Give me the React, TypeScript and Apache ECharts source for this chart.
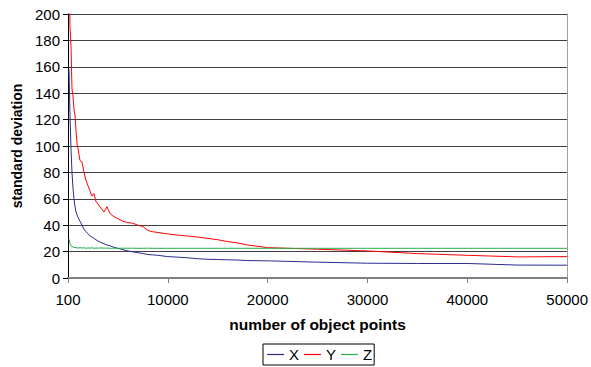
import React, { useEffect, useRef } from "react";
import * as echarts from "echarts";

const pointCounts = [100, 200, 300, 400, 500, 600, 700, 800, 900, 1000, 1200, 1400, 1600, 1800, 2000, 2200, 2400, 2600, 2800, 3000, 3300, 3600, 3900, 4200, 4500, 5000, 5500, 6000, 6500, 7000, 7500, 8000, 8500, 9000, 10000, 11000, 12000, 13000, 14000, 15000, 16000, 17000, 18000, 20000, 25000, 30000, 35000, 40000, 45000, 50000];

const sdX = [158, 124, 98, 80, 68, 60, 54, 50, 48, 46, 43, 40, 37, 35, 33.5, 32, 31, 30, 29, 28, 27, 26, 25, 24.5, 23.5, 22.5, 21.5, 20.5, 19.8, 19.2, 18.5, 17.8, 17.5, 17.2, 16.2, 15.8, 15.3, 14.6, 14.2, 14, 13.8, 13.6, 13.2, 13, 12, 11.2, 11, 11, 9.8, 9.7];

const sdY = [240, 190, 176, 143, 138, 128, 123, 112, 102, 98, 89, 88, 80, 74, 70, 66, 62, 64, 58, 56, 53, 50, 54, 49, 47, 45, 43, 42, 41.5, 40, 39, 36, 35, 34.5, 33.4, 32.5, 31.8, 31, 30, 29, 27.6, 26.5, 25, 23, 21.8, 20.5, 18.5, 17.2, 16, 16.2];

const sdZ = [29.5, 26, 24.5, 24, 23.5, 23, 23.2, 22.8, 23, 22.6, 23, 22.7, 22.9, 22.5, 22.8, 22.6, 22.9, 22.5, 22.7, 22.6, 22.8, 22.6, 22.7, 22.5, 22.6, 22.5, 22.6, 22.5, 22.6, 22.5, 22.5, 22.6, 22.5, 22.5, 22.5, 22.5, 22.5, 22.5, 22.5, 22.5, 22.5, 22.5, 22.5, 22.5, 22.5, 22.5, 22.5, 22.5, 22.5, 22.5];

const seriesNames = ["X", "Y", "Z"];
const seriesColors = ["#2b2b8f", "#ff0000", "#22b04a"];
const xTickLabels: Record<number, string> = { 0: "100", 10000: "10000", 20000: "20000", 30000: "30000", 40000: "40000", 50000: "50000" };

export default function App() {
  const ref = useRef<HTMLDivElement>(null);
  useEffect(() => {
    if (!ref.current) return;
    const chart = echarts.init(ref.current, undefined, { renderer: "svg" });
    const values = [sdX, sdY, sdZ];
    const font = "Liberation Sans";
    chart.setOption({
      animation: false,
      backgroundColor: "#ffffff",
      grid: { left: 68, right: 21, top: 14, bottom: 89, containLabel: false },
      xAxis: {
        type: "value",
        min: 0,
        max: 50000,
        interval: 10000,
        name: "number of object points",
        nameLocation: "middle",
        nameGap: 38,
        nameTextStyle: { fontFamily: font, fontWeight: "bold", fontSize: 15.5, color: "#000" },
        axisLine: { show: true, lineStyle: { color: "#808080", width: 2 } },
        axisTick: { show: true, length: 5, lineStyle: { color: "#808080" } },
        axisLabel: {
          margin: 14,
          fontFamily: font,
          fontSize: 15,
          color: "#000",
          formatter: (v: number) => xTickLabels[v] ?? String(v),
        },
        splitLine: { show: false },
      },
      yAxis: [
        {
          type: "value",
          min: 0,
          max: 200,
          interval: 20,
          name: "standard deviation",
          nameLocation: "middle",
          nameGap: 43,
          nameTextStyle: { fontFamily: font, fontWeight: "bold", fontSize: 14, color: "#000" },
          axisLine: { show: true, lineStyle: { color: "#000", width: 1 } },
          axisTick: { show: true, length: 5, lineStyle: { color: "#000" } },
          axisLabel: { margin: 8, fontFamily: font, fontSize: 15, color: "#000" },
          splitLine: { show: true, lineStyle: { color: "#404040", width: 1 } },
        },
        {
          type: "value",
          min: 0,
          max: 200,
          interval: 20,
          position: "right",
          axisLine: { show: true, lineStyle: { color: "#a0a0a0", width: 1 } },
          axisTick: { show: false },
          axisLabel: { show: false },
          splitLine: { show: false },
        },
      ],
      legend: {
        data: seriesNames,
        left: 263,
        top: 344,
        orient: "horizontal",
        icon: "rect",
        itemWidth: 17,
        itemHeight: 1.2,
        itemGap: 5,
        padding: [3, 2, 3, 4],
        borderColor: "#000",
        borderWidth: 1,
        textStyle: { fontFamily: font, fontSize: 15, color: "#000" },
      },
      series: seriesNames.map((name, i) => ({
        name,
        type: "line",
        yAxisIndex: 0,
        data: pointCounts.map((x, j) => [x, values[i][j]]),
        showSymbol: false,
        symbol: "none",
        clip: true,
        lineStyle: { color: seriesColors[i], width: 1 },
        itemStyle: { color: seriesColors[i] },
      })),
    });
    return () => chart.dispose();
  }, []);
  return <div ref={ref} style={{ position: "fixed", left: 0, top: 0, width: 591, height: 367 }} />;
}
